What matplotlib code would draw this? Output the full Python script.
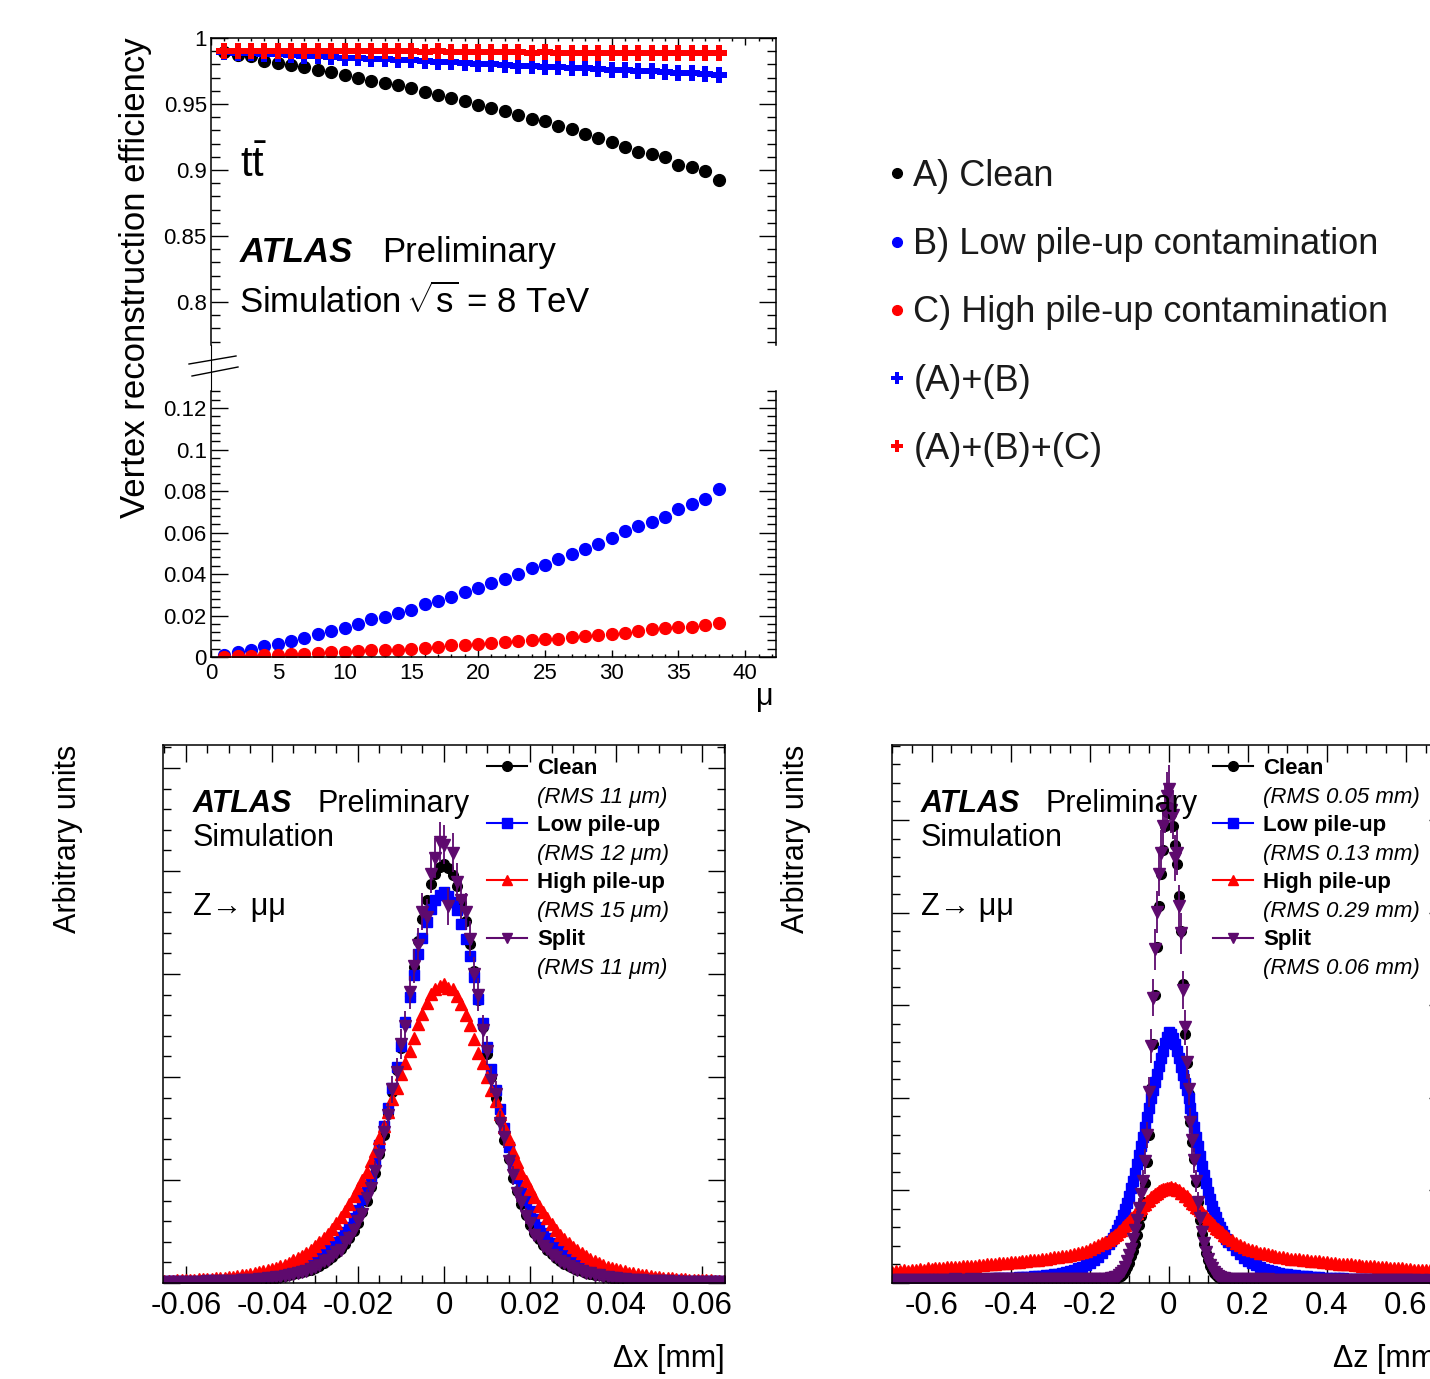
import numpy as np
import matplotlib
matplotlib.use('Agg')
import matplotlib.pyplot as plt
from matplotlib.lines import Line2D
from matplotlib.ticker import MultipleLocator

plt.rcParams['font.family'] = ['Liberation Sans', 'DejaVu Sans']
plt.rcParams['mathtext.fontset'] = 'custom'
plt.rcParams['mathtext.rm'] = 'Liberation Sans'
plt.rcParams['mathtext.it'] = 'Liberation Sans:italic'
plt.rcParams['mathtext.bf'] = 'Liberation Sans:bold'
plt.rcParams['axes.unicode_minus'] = False
plt.rcParams['axes.linewidth'] = 1.1

# ---------------- top panel data: efficiency vs mu ----------------
mu = list(range(1, 39))
eff_clean = [0.9895, 0.987, 0.986, 0.9825, 0.981, 0.9795, 0.978, 0.976, 0.9745, 0.972,
             0.970, 0.9675, 0.966, 0.9645, 0.962, 0.959, 0.957, 0.9545, 0.952, 0.9495,
             0.947, 0.945, 0.942, 0.9388, 0.937, 0.933, 0.931, 0.9275, 0.9245, 0.9215,
             0.9175, 0.914, 0.912, 0.9095, 0.904, 0.902, 0.899, 0.8925]
eff_ab = [0.9895, 0.989, 0.9885, 0.988, 0.9875, 0.987, 0.9865, 0.986, 0.9855, 0.985,
          0.9845, 0.984, 0.984, 0.983, 0.983, 0.9825, 0.982, 0.9815, 0.981, 0.9805,
          0.980, 0.9795, 0.979, 0.9785, 0.978, 0.978, 0.9775, 0.977, 0.9768, 0.976,
          0.9758, 0.9752, 0.9748, 0.9742, 0.9738, 0.9735, 0.973, 0.972]
eff_abc = [0.9905, 0.9905, 0.9905, 0.9905, 0.990, 0.990, 0.9905, 0.990, 0.990, 0.990,
           0.990, 0.990, 0.9898, 0.990, 0.9898, 0.9895, 0.9898, 0.9895, 0.9895, 0.9895,
           0.9893, 0.9895, 0.9893, 0.989, 0.9893, 0.989, 0.989, 0.989, 0.9888, 0.989,
           0.9888, 0.9888, 0.9885, 0.9888, 0.9885, 0.9885, 0.9885, 0.9883]
frac_low = [0.0008, 0.0024, 0.0036, 0.0052, 0.0065, 0.0076, 0.0092, 0.011, 0.0124, 0.0142,
            0.0158, 0.0181, 0.0194, 0.021, 0.0226, 0.0255, 0.027, 0.0291, 0.0315, 0.0331,
            0.0359, 0.0375, 0.0399, 0.0428, 0.0444, 0.0474, 0.0496, 0.052, 0.0546, 0.0574,
            0.0606, 0.063, 0.065, 0.0674, 0.0714, 0.0739, 0.076, 0.0811]
frac_high = [0.0002, 0.0003, 0.0003, 0.0008, 0.0008, 0.0013, 0.0016, 0.0019, 0.0024, 0.0024,
             0.0029, 0.0032, 0.0036, 0.0036, 0.004, 0.0045, 0.0048, 0.0057, 0.0057, 0.0065,
             0.0068, 0.0073, 0.0076, 0.0081, 0.0087, 0.0089, 0.0094, 0.0102, 0.0105, 0.0113,
             0.0116, 0.0124, 0.0133, 0.0141, 0.0145, 0.0145, 0.0154, 0.0165]
upper_ticks = [0.8, 0.85, 0.9, 0.95, 1.0]
upper_ticklabels = ['0.8', '0.85', '0.9', '0.95', '1']
lower_ticks = [0, 0.02, 0.04, 0.06, 0.08, 0.1, 0.12]
lower_ticklabels = ['0', '0.02', '0.04', '0.06', '0.08', '0.1', '0.12']
mu_ticks = [0, 5, 10, 15, 20, 25, 30, 35, 40]
mu_ticklabels = ['0', '5', '10', '15', '20', '25', '30', '35', '40']
top_legend = ['A) Clean', 'B) Low pile-up contamination', 'C) High pile-up contamination',
              '(A)+(B)', '(A)+(B)+(C)']

# ---------------- bottom-left data: delta x (bins of 0.001 mm, -0.065..0.065) ----------------
dx_first, dx_step, dx_n = -0.065, 0.001, 131
dx_clean = [1.1, 1.2, 1.3, 1.4, 1.5, 1.6, 1.8, 1.9, 2.0, 2.2,
            2.4, 2.6, 2.8, 3.0, 3.2, 3.4, 3.7, 4.0, 4.5, 5.0,
            5.5, 6.0, 6.6, 7.3, 8.0, 9.0, 10, 11, 12.5, 14,
            16, 18, 20, 22, 25, 28, 32, 37, 42, 48,
            55, 64, 73, 84, 97, 112, 132, 153, 178, 205,
            240, 275, 315, 355, 395, 437, 485, 533, 587, 636,
            676, 712, 741, 761, 773,
            778,
            771, 759, 738, 707, 672, 631, 580, 526, 475, 425,
            383, 343, 303, 265, 230, 196, 171, 147, 127, 108,
            93, 81, 71, 62, 54, 47, 41, 36, 31.5, 27.5,
            24.5, 22, 19.5, 17.5, 15.5, 14, 12.5, 11, 10, 9,
            8.0, 7.3, 6.6, 6.0, 5.5, 5.0, 4.5, 4.0, 3.7, 3.4,
            3.1, 2.9, 2.7, 2.5, 2.3, 2.1, 2.0, 1.9, 1.8, 1.6,
            1.5, 1.4, 1.3, 1.2, 1.1]
dx_low = [2.7, 2.8, 3.0, 3.1, 3.3, 3.5, 3.7, 4.0, 4.2, 4.5,
          4.8, 5.2, 5.6, 6.0, 6.5, 7.0, 7.5, 8.0, 8.6, 9.3,
          10, 11, 12, 13, 14.5, 16, 17.5, 19, 21, 23,
          25, 28, 31, 35, 39, 44, 49, 55, 61, 68,
          76, 85, 94, 105, 120, 136, 156, 176, 199, 226,
          256, 291, 326, 362, 401, 441, 486, 532, 572, 611,
          641, 671, 696, 711, 721,
          726,
          720, 709, 694, 668, 639, 608, 568, 528, 484, 439,
          398, 358, 323, 288, 253, 223, 196, 174, 154, 134,
          119, 104, 93, 84, 75, 67, 60, 54, 48, 43,
          38, 34, 30.5, 27.5, 25, 23, 21, 19, 17.5, 16,
          14.5, 13, 12, 11, 10, 9.3, 8.6, 8.0, 7.5, 7.0,
          6.5, 6.0, 5.6, 5.2, 4.8, 4.5, 4.2, 4.0, 3.7, 3.5,
          3.3, 3.1, 3.0, 2.8, 2.7]
dx_high = [4.0, 4.3, 4.4, 4.8, 5.0, 5.5, 5.6, 6.0, 6.6, 7.0,
           7.6, 8.0, 8.6, 9.0, 10, 11, 12, 13, 14, 15.5,
           16.5, 18, 20, 22, 24, 26, 28, 31, 34, 38,
           42, 46, 51, 56, 62, 68, 76, 84, 92, 101,
           111, 123, 134, 146, 162, 176, 192, 207, 226, 246,
           270, 291, 318, 342, 362, 388, 408, 432, 456, 482,
           500, 521, 537, 546, 552,
           556,
           549, 546, 534, 519, 498, 479, 453, 428, 409, 383,
           358, 339, 314, 290, 267, 244, 224, 204, 189, 174,
           159, 144, 132, 121, 109, 99, 90, 82, 74, 67,
           61, 55, 50, 45, 41, 37, 33.5, 30.5, 28, 25.5,
           23.5, 21.5, 19.5, 18, 16.5, 15, 14, 13, 12, 11,
           10, 9.2, 8.5, 8.0, 7.5, 7.0, 6.5, 6.0, 5.7, 5.4,
           5.0, 4.7, 4.4, 4.2, 4.0]
dx_split = [1.5, 1.0, 1.6, 1.2, 2.0, 1.4, 2.2, 1.8, 2.4, 2.0,
            2.8, 2.5, 3.2, 2.8, 3.6, 3.2, 4.2, 4.0, 5.0, 5.2,
            6.0, 6.4, 7.0, 8.2, 8.5, 10, 10.5, 12, 13, 15,
            16.5, 19, 21, 23, 26, 30, 33, 40, 43, 50,
            57, 62, 76, 84, 99, 115, 128, 158, 176, 208,
            238, 280, 312, 360, 392, 444, 478, 540, 590, 628,
            690, 680, 760, 790, 820,
            815,
            700, 800, 745, 712, 690, 640, 575, 536, 470, 432,
            378, 352, 298, 272, 226, 200, 168, 150, 124, 112,
            90, 84, 69, 64, 52, 48, 40, 37, 31, 28,
            24, 22, 19, 18, 15, 14, 12, 11.5, 9.5, 9.2,
            8.0, 7.6, 6.4, 6.2, 5.3, 5.2, 4.4, 4.0, 3.5, 3.6,
            3.0, 2.8, 2.6, 2.4, 2.0, 2.2, 1.8, 1.9, 1.5, 1.6,
            1.4, 1.2, 1.5, 1.0, 1.2]
dx_ticks = [-0.06, -0.04, -0.02, 0, 0.02, 0.04, 0.06]
dx_ticklabels = ['-0.06', '-0.04', '-0.02', '0', '0.02', '0.04', '0.06']
dx_legend = ['Clean', '(RMS 11 μm)', 'Low pile-up', '(RMS 12 μm)',
             'High pile-up', '(RMS 15 μm)', 'Split', '(RMS 11 μm)']

# ---------------- bottom-right data: delta z ----------------
# bins: tails of 0.01 mm (-0.70..-0.16 and 0.16..0.70), core of 0.005 mm (-0.15..0.15)
dz_tail_n, dz_tail_step = 55, 0.01
dz_core_first, dz_core_step, dz_core_n = -0.15, 0.005, 61
dz_clean = [1.0, 1.0, 0.9, 1.0, 1.0,
            1.0, 1.0, 1.0, 1.0, 1.0, 1.0, 1.1, 1.1, 1.1, 1.1,
            1.1, 1.1, 1.2, 1.2, 1.2, 1.2, 1.2, 1.3, 1.3, 1.3,
            1.3, 1.4, 1.4, 1.4, 1.4, 1.5, 1.5, 1.5, 1.6, 1.6,
            1.6, 1.7, 1.7, 1.8, 1.8, 1.9, 1.9, 2.0, 2.0, 2.1,
            2.2, 2.3, 2.4, 2.5, 2.6, 2.8, 3.0, 3.3, 3.7, 4.1,
            4.5, 5, 6, 7, 8.5, 10.5, 13, 17, 22, 29,
            38, 50, 60, 72, 90, 108, 125, 150, 185, 225,
            275, 362, 445, 535, 625, 700, 760, 805, 850, 875,
            885,
            872, 850, 815, 778, 720, 655, 555, 462, 408, 352,
            300, 262, 230, 188, 150, 117, 92, 72, 55, 42,
            32, 25, 19, 15, 12, 9.5, 8, 6.5, 5.5, 4.8,
            4.2, 3.7, 3.3, 3.0, 2.8, 2.6, 2.5, 2.4, 2.3, 2.2,
            2.1, 2.0, 2.0, 1.9, 1.9, 1.8, 1.8, 1.7, 1.7, 1.6,
            1.6, 1.6, 1.5, 1.5, 1.5, 1.4, 1.4, 1.4, 1.4, 1.3,
            1.3, 1.3, 1.3, 1.2, 1.2, 1.2, 1.2, 1.2, 1.1, 1.1,
            1.1, 1.1, 1.1, 1.1, 1.0, 1.0, 1.0, 1.0, 1.0, 1.0,
            1.0, 1.0, 0.9, 1.0, 1.0]
dz_low = [4.8, 4.9, 5.0, 5.0, 5.1,
          5.2, 5.3, 5.4, 5.5, 5.6, 5.7, 5.8, 5.9, 6.0, 6.1,
          6.3, 6.4, 6.6, 6.7, 6.9, 7.1, 7.3, 7.5, 7.7, 7.9,
          8.1, 8.4, 8.7, 9.0, 9.3, 9.6, 10, 10.4, 10.8, 11.3,
          11.8, 12.4, 13, 13.8, 14.5, 15.5, 16.5, 17.5, 19, 20.5,
          22.5, 24.5, 27, 30, 34, 38, 43, 49, 56, 64,
          73, 78, 84, 91, 99, 107, 116, 126, 137, 149,
          162, 176, 190, 205, 221, 238, 255, 272, 290, 308,
          326, 343, 358, 373, 388, 403, 418, 432, 446, 458,
          466,
          462, 456, 445, 432, 418, 402, 387, 372, 358, 343,
          326, 309, 290, 272, 254, 236, 218, 201, 185, 170,
          156, 144, 132, 122, 112, 104, 96, 89, 82, 77,
          70, 62, 54, 47, 41.5, 37, 33, 29.5, 26.5, 24,
          22, 20.5, 19, 17.5, 16.5, 15.5, 14.6, 13.8, 13, 12.3,
          11.7, 11.1, 10.6, 10.1, 9.7, 9.3, 9.0, 8.7, 8.4, 8.1,
          7.9, 7.7, 7.5, 7.3, 7.1, 6.9, 6.7, 6.6, 6.4, 6.3,
          6.2, 6.1, 6.0, 5.9, 5.8, 5.7, 5.6, 5.5, 5.4, 5.3,
          5.2, 5.1, 5.0, 5.0, 4.9]
dz_high = [21, 23, 22, 24, 23,
           25, 24, 26, 25, 27, 26.5, 27, 28.5, 28, 29.5,
           29, 30.5, 30, 31.5, 31, 32.5, 32, 33.5, 33, 34.5,
           35, 36, 36.5, 37.5, 37, 38.5, 39, 39.5, 40.5, 41,
           42, 42.5, 43.5, 44, 45, 46, 47.5, 48, 49.5, 51,
           52, 54, 56, 58, 60, 63, 66, 70, 74, 77,
           80, 84, 86, 90, 92, 97, 99, 104, 107, 112,
           115, 120, 122, 128, 131, 136, 139, 145, 147, 152,
           155, 159, 161, 166, 167, 171, 172, 175, 174, 177,
           176,
           178, 175, 177, 173, 172, 168, 167, 162, 161, 156,
           154, 149, 147, 142, 140, 135, 132, 127, 124, 119,
           116, 111, 108, 103, 101, 96, 94, 89, 88, 84,
           80, 75, 71, 67, 64, 61, 59, 56.5, 55, 53,
           51.5, 50, 49, 47.5, 46.5, 45.5, 44.5, 44, 43, 42,
           41.5, 40.5, 40, 39, 38.5, 37.5, 37, 36, 36, 35,
           34.5, 33.5, 33, 32.5, 32, 31, 31, 30, 29.5, 29,
           28.5, 28, 27, 27, 26, 26, 25, 25, 24, 24,
           23.5, 23, 22.5, 22, 21.5]
dz_split = [5.2, 6.0, 5.4, 6.2, 5.6,
            5.8, 6.4, 5.5, 6.0, 5.7, 6.3, 5.6, 6.1, 6.5, 5.9,
            6.2, 6.6, 6.0, 6.4, 6.3, 6.8, 6.2, 6.5, 7.0, 6.4,
            6.9, 6.6, 7.1, 6.8, 7.0, 7.2, 6.9, 7.4, 7.1, 7.2,
            7.0, 7.3, 7.1, 7.4, 7.2, 7.5, 7.3, 7.6, 7.4, 7.7,
            7.0, 7.4, 7.2, 7.6, 7.3, 7.8, 7.5, 7.9, 7.7, 8.0,
            8, 8.5, 9, 10.5, 12, 14.5, 18, 23, 30, 40,
            52, 64, 82, 98, 118, 140, 165, 190, 226, 275,
            355, 440, 530, 620, 690, 760, 800, 850, 880, 905,
            918,
            880, 870, 790, 800, 700, 650, 545, 475, 410, 360,
            300, 265, 228, 190, 150, 120, 94, 74, 58, 44,
            34, 27, 21, 16.5, 13.5, 11.5, 10, 9, 8.3, 7.8,
            7.4, 7.2, 7.0, 6.9, 6.8, 6.7, 6.8, 6.6, 6.5, 6.6,
            6.3, 6.4, 6.2, 6.3, 6.0, 6.2, 6.1, 5.9, 6.0, 5.8,
            6.0, 5.7, 5.9, 5.6, 5.8, 5.5, 5.7, 5.4, 5.6, 5.5,
            5.3, 5.5, 5.2, 5.4, 5.1, 5.3, 5.0, 5.2, 5.0, 5.1,
            4.9, 5.1, 4.8, 5.0, 4.7, 4.9, 4.8, 4.6, 4.8, 4.5,
            4.7, 4.5, 4.6, 4.4, 4.5]
dz_ticks = [-0.6, -0.4, -0.2, 0, 0.2, 0.4, 0.6]
dz_ticklabels = ['-0.6', '-0.4', '-0.2', '0', '0.2', '0.4', '0.6']
dz_legend = ['Clean', '(RMS 0.05 mm)', 'Low pile-up', '(RMS 0.13 mm)',
             'High pile-up', '(RMS 0.29 mm)', 'Split', '(RMS 0.06 mm)']

# ---------------- figure ----------------
W, H = 1430, 1379
fig = plt.figure(figsize=(W / 100, H / 100), dpi=100)


def add_ax(l, t, r, b):
    return fig.add_axes([l / W, 1 - b / H, (r - l) / W, (b - t) / H])


def fx(x):
    return x / W


def fy(y):
    return 1 - y / H


BLACK, BLUE, RED, PURPLE = '#000000', '#0000ff', '#ff0000', '#5e0a6e'

# ---------- top panel ----------
ax_u = add_ax(211, 38, 776, 345)
ax_l = add_ax(211, 391, 776, 657)
for ax in (ax_u, ax_l):
    ax.set_xlim(0, 42.3)
    ax.set_xticks(mu_ticks)
    ax.set_xticklabels(mu_ticklabels)
    ax.xaxis.set_minor_locator(MultipleLocator(1))
    ax.tick_params(axis='both', which='both', direction='in', right=True, width=1)
    ax.tick_params(axis='y', which='major', length=12, labelsize=16, pad=3)
    ax.tick_params(axis='y', which='minor', length=6.5)
    ax.tick_params(axis='x', which='major', length=5, labelsize=16, pad=4)
    ax.tick_params(axis='x', which='minor', length=2.5)

ax_u.set_ylim(0.7674, 1.0)
ax_u.set_yticks(upper_ticks)
ax_u.set_yticklabels(upper_ticklabels)
ax_u.yaxis.set_minor_locator(MultipleLocator(0.01))
ax_u.spines['bottom'].set_visible(False)
ax_u.tick_params(axis='x', which='both', bottom=False, top=True, labelbottom=False)

ax_l.set_ylim(0, 0.1282)
ax_l.set_yticks(lower_ticks)
ax_l.set_yticklabels(lower_ticklabels)
ax_l.yaxis.set_minor_locator(MultipleLocator(0.004))
ax_l.spines['top'].set_visible(False)
ax_l.tick_params(axis='x', which='both', top=False)

ax_u.plot(mu, eff_clean, ls='none', marker='o', ms=8.5, color=BLACK)
ax_u.plot(mu, eff_ab, ls='none', marker='P', ms=11, color=BLUE, mew=0)
ax_u.plot(mu, eff_abc, ls='none', marker='P', ms=11, color=RED, mew=0)
ax_l.plot(mu, frac_low, ls='none', marker='o', ms=8.5, color=BLUE)
ax_l.plot(mu, frac_high, ls='none', marker='o', ms=8.5, color=RED)

# axis break decorations
fig.add_artist(Line2D([fx(211), fx(211)], [fy(345), fy(391)], color='k', lw=0.8))
fig.add_artist(Line2D([fx(189), fx(236)], [fy(364), fy(356)], color='k', lw=1.0))
fig.add_artist(Line2D([fx(192), fx(238)], [fy(376), fy(367)], color='k', lw=1.0))

fig.text(fx(240), fy(177), r'$\mathrm{t\bar{t}}$', fontsize=30, va='baseline')
fig.text(fx(240), fy(262), 'ATLAS', fontsize=25, fontweight='bold', fontstyle='italic', va='baseline')
fig.text(fx(382), fy(262), 'Preliminary', fontsize=25, va='baseline')
fig.text(fx(239), fy(313), r'Simulation $\!\sqrt{\mathrm{s}}$ = 8 TeV', fontsize=25, va='baseline')
fig.text(fx(135), fy(278), 'Vertex reconstruction efficiency', rotation=90,
         fontsize=25, ha='center', va='center')
fig.text(fx(765), fy(697), 'μ', fontsize=22, ha='center', va='center')

top_handles = [Line2D([], [], ls='none', marker='o', ms=7, color=BLACK),
               Line2D([], [], ls='none', marker='o', ms=7, color=BLUE),
               Line2D([], [], ls='none', marker='o', ms=7, color=RED),
               Line2D([], [], ls='none', marker='P', ms=8, color=BLUE, mew=0),
               Line2D([], [], ls='none', marker='P', ms=8, color=RED, mew=0)]
fig.legend(top_handles, top_legend, loc='center left', bbox_to_anchor=(fx(888), fy(313)),
           frameon=False, fontsize=26, handlelength=0.5, handletextpad=0.2,
           labelspacing=0.92, borderpad=0, borderaxespad=0, labelcolor='#1a1a1a')


# ---------- bottom panels ----------
def hist_panel(l, r, xlim, ticks, ticklabels, xminor, ymajor_px):
    ax = add_ax(l, 745, r, 1283)
    ax.set_xlim(*xlim)
    ax.set_ylim(0, 1000)
    ax.set_xticks(ticks)
    ax.set_xticklabels(ticklabels)
    ax.xaxis.set_minor_locator(MultipleLocator(xminor))
    ystep = ymajor_px / 538 * 1000
    ax.yaxis.set_major_locator(MultipleLocator(ystep))
    ax.yaxis.set_minor_locator(MultipleLocator(ystep / 5))
    ax.tick_params(axis='both', which='both', direction='in', top=True, right=True,
                   labelleft=False, width=1)
    ax.tick_params(which='major', length=12, labelsize=22.5, pad=6)
    ax.tick_params(which='minor', length=6)
    return ax


def draw_hists(ax, x, clean, low, high, split, errscale, legend_labels, leg_x):
    ax.plot(x, clean, ls='none', marker='o', ms=7, color=BLACK)
    ax.plot(x, low, ls='none', marker='s', ms=6.5, color=BLUE)
    ax.plot(x, high, ls='none', marker='^', ms=8, color=RED)
    sp = np.asarray(split, dtype=float)
    ax.errorbar(x, sp, yerr=errscale * np.sqrt(sp), fmt='v', ms=8, color=PURPLE,
                elinewidth=1.3, capsize=0)
    handles = [Line2D([], [], color=BLACK, marker='o', ms=7, lw=1.5),
               Line2D([], [], ls='none'),
               Line2D([], [], color=BLUE, marker='s', ms=7, lw=1.5),
               Line2D([], [], ls='none'),
               Line2D([], [], color=RED, marker='^', ms=7, lw=1.5),
               Line2D([], [], ls='none'),
               Line2D([], [], color=PURPLE, marker='v', ms=7, lw=1.5),
               Line2D([], [], ls='none')]
    leg = ax.legend(handles, legend_labels, loc='upper left',
                    bbox_to_anchor=(fx(leg_x), fy(758)), bbox_transform=fig.transFigure,
                    frameon=False, fontsize=16, handlelength=1.8, handletextpad=0.45,
                    labelspacing=0.34, borderpad=0, borderaxespad=0)
    for i, t in enumerate(leg.get_texts()):
        if i % 2 == 0:
            t.set_fontweight('bold')
        else:
            t.set_fontstyle('italic')


dx_centers = np.round(dx_first + dx_step * np.arange(dx_n), 4)
dz_centers = np.concatenate([
    np.round(-0.70 + dz_tail_step * np.arange(dz_tail_n), 3),
    np.round(dz_core_first + dz_core_step * np.arange(dz_core_n), 4),
    np.round(0.16 + dz_tail_step * np.arange(dz_tail_n), 3)])

ax_x = hist_panel(163, 725, (-0.0653, 0.0653), dx_ticks, dx_ticklabels, 0.005, 103)
draw_hists(ax_x, dx_centers, dx_clean, dx_low, dx_high, dx_split, 1.3, dx_legend, 487)

ax_z = hist_panel(892, 1445.5, (-0.7, 0.7), dz_ticks, dz_ticklabels, 0.05, 92.6)
draw_hists(ax_z, dz_centers, dz_clean, dz_low, dz_high, dz_split, 1.5, dz_legend, 1213)

for x0 in (193, 921):
    fig.text(fx(x0), fy(812), 'ATLAS', fontsize=22, fontweight='bold', fontstyle='italic', va='baseline')
    fig.text(fx(x0 + 125), fy(812), 'Preliminary', fontsize=22, va='baseline')
    fig.text(fx(x0), fy(846), 'Simulation', fontsize=22, va='baseline')
    fig.text(fx(x0), fy(915), 'Z→ μμ', fontsize=22, va='baseline')

fig.text(fx(68), fy(745), 'Arbitrary units', rotation=90, fontsize=22, ha='center', va='top')
fig.text(fx(796), fy(745), 'Arbitrary units', rotation=90, fontsize=22, ha='center', va='top')
fig.text(fx(725), fy(1367), 'Δx [mm]', fontsize=22, ha='right', va='baseline')
fig.text(fx(1445), fy(1367), 'Δz [mm]', fontsize=22, ha='right', va='baseline')

fig.savefig('out.png', dpi=100)
